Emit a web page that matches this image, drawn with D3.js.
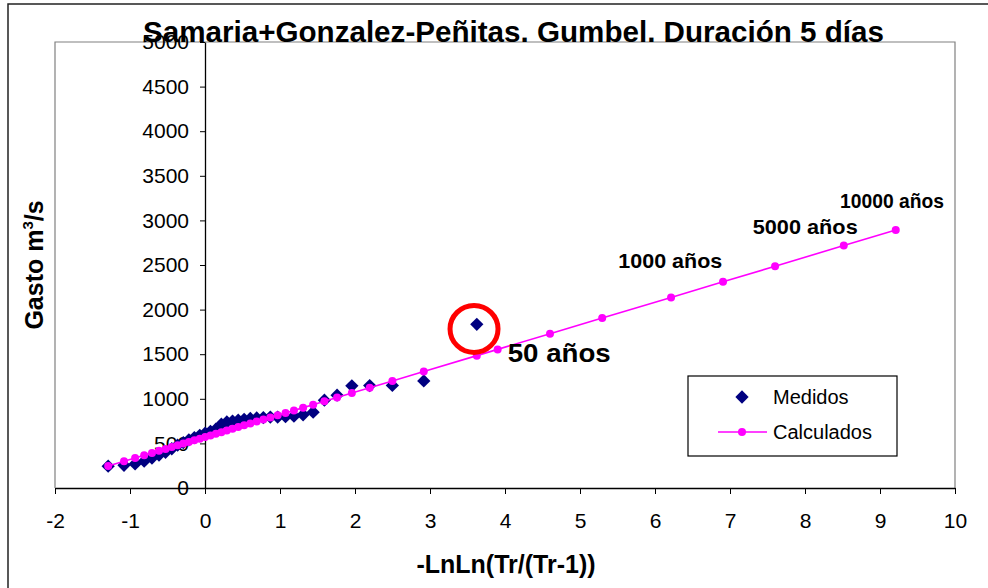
<!DOCTYPE html>
<html>
<head>
<meta charset="utf-8">
<script src="https://cdn.jsdelivr.net/npm/d3@7"></script>
<style>
  html, body { margin: 0; padding: 0; background: #fff; }
  svg { display: block; font-family: "Liberation Sans", Arial, sans-serif; }
</style>
</head>
<body>
<svg id="chart" width="988" height="588"></svg>
<script>
// ---- Data ----
const titleText = "Samaria+Gonzalez-Peñitas. Gumbel. Duración 5 días";
const xTicks = [-2, -1, 0, 1, 2, 3, 4, 5, 6, 7, 8, 9, 10];
const yTicks = [0, 500, 1000, 1500, 2000, 2500, 3000, 3500, 4000, 4500, 5000];

const measuredX = [-1.291, -1.080, -0.932, -0.811, -0.707, -0.613, -0.526, -0.443, -0.365, -0.289,
  -0.215, -0.142, -0.070, 0.002, 0.073, 0.145, 0.218, 0.291, 0.367, 0.443,
  0.522, 0.604, 0.689, 0.778, 0.871, 0.969, 1.074, 1.186, 1.308, 1.442,
  1.592, 1.761, 1.958, 2.196, 2.498, 2.917, 3.624];
const measuredQ = [245, 255, 270, 300, 335, 370, 400, 440, 480, 510,
  540, 565, 590, 615, 635, 660, 715, 740, 750, 760,
  770, 780, 785, 790, 795, 795, 800, 805, 820, 850,
  985, 1040, 1145, 1148, 1150, 1200, 1835];

const calcX = [-1.291, -1.080, -0.932, -0.811, -0.707, -0.613, -0.526, -0.443, -0.365, -0.289,
  -0.215, -0.142, -0.070, 0.002, 0.073, 0.145, 0.218, 0.291, 0.367, 0.443,
  0.522, 0.604, 0.689, 0.778, 0.871, 0.969, 1.074, 1.186, 1.308, 1.442,
  1.592, 1.761, 1.958, 2.196, 2.498, 2.917, 3.624,
  3.902, 4.600, 5.296, 6.214, 6.907, 7.601, 8.517, 9.210];
const calcQ = [246, 299, 336, 367, 393, 417, 438, 459, 479, 498,
  517, 535, 553, 571, 589, 608, 626, 644, 663, 683,
  703, 723, 745, 767, 790, 815, 842, 870, 901, 934,
  972, 1015, 1064, 1124, 1200, 1306, 1484,
  1554, 1730, 1907, 2136, 2312, 2486, 2718, 2892];

const annLabels = ["50 años", "1000 años", "5000 años", "10000 años"];
const annX = [4.036, 5.511, 7.303, 8.467];
const annY = [1413, 2463, 2844, 3136];
const circleX = 3.587, circleY = 1783;

const legendLabels = ["Medidos", "Calculados"];

// ---- Drawing ----
const svg = d3.select("#chart");
const x = d3.scaleLinear().domain([-2, 10]).range([55, 955]);
const y = d3.scaleLinear().domain([0, 5000]).range([488, 42]);

// outer chart frame
svg.append("rect").attr("x", 8).attr("y", 4).attr("width", 1000).attr("height", 600)
  .attr("fill", "none").attr("stroke", "#222").attr("stroke-width", 1.5);

// plot area frame (gray)
svg.append("path")
  .attr("d", `M${x(-2)},${y(0)} V${y(5000)} H${x(10)} V${y(0)}`)
  .attr("fill", "none").attr("stroke", "#808080").attr("stroke-width", 1.2);

// x axis
const gx = svg.append("g").attr("transform", `translate(0,${y(0)})`)
  .call(d3.axisBottom(x).tickValues(xTicks).tickSize(6).tickSizeOuter(0).tickPadding(19)
    .tickFormat(d => String(d)));
gx.select(".domain").attr("stroke", "#000").attr("stroke-width", 1.3);
gx.selectAll(".tick line").attr("stroke", "#000");
gx.selectAll("text").attr("font-size", 21).attr("fill", "#000")
  .attr("font-family", "Liberation Sans, Arial, sans-serif");

// y axis (crosses at x = 0)
const gy = svg.append("g").attr("transform", `translate(${x(0)},0)`)
  .call(d3.axisLeft(y).tickValues(yTicks).tickSize(5).tickSizeOuter(0).tickPadding(11)
    .tickFormat(d => String(d)));
gy.select(".domain").attr("stroke", "#000").attr("stroke-width", 1.3);
gy.selectAll(".tick line").attr("stroke", "#000");
gy.selectAll("text").attr("font-size", 21).attr("fill", "#000")
  .attr("font-family", "Liberation Sans, Arial, sans-serif");

// measured diamonds
const measured = measuredX.map((d, i) => ({ x: d, q: measuredQ[i] }));
const diamond = d3.symbol().type(d3.symbolSquare).size(88);
svg.append("g").selectAll("path").data(measured).join("path")
  .attr("d", diamond)
  .attr("transform", d => `translate(${x(d.x)},${y(d.q)}) rotate(45)`)
  .attr("fill", "#000080");

// calculated line + dots
const calc = calcX.map((d, i) => ({ x: d, q: calcQ[i] }));
svg.append("path").datum(calc)
  .attr("d", d3.line().x(d => x(d.x)).y(d => y(d.q)))
  .attr("fill", "none").attr("stroke", "#FF00FF").attr("stroke-width", 1.6);
svg.append("g").selectAll("circle").data(calc).join("circle")
  .attr("cx", d => x(d.x)).attr("cy", d => y(d.q)).attr("r", 4)
  .attr("fill", "#FF00FF");

// red circle annotation
svg.append("ellipse").attr("cx", x(circleX)).attr("cy", y(circleY))
  .attr("rx", 24).attr("ry", 23.5)
  .attr("fill", "none").attr("stroke", "#FF0000").attr("stroke-width", 5);

// return period annotations
const annSizes = [25, 21, 21, 21];
const annLens = [103, 104, 105, 104];
svg.append("g").selectAll("text").data(annLabels).join("text")
  .attr("x", (d, i) => x(annX[i])).attr("y", (d, i) => y(annY[i]))
  .attr("font-size", (d, i) => annSizes[i]).attr("font-weight", "bold")
  .attr("textLength", (d, i) => annLens[i]).attr("lengthAdjust", "spacingAndGlyphs")
  .attr("fill", "#000").text(d => d);

// title
svg.append("text").attr("x", 513.5).attr("y", 42).attr("text-anchor", "middle")
  .attr("font-size", 29).attr("font-weight", "bold").attr("fill", "#000")
  .attr("textLength", 741).attr("lengthAdjust", "spacingAndGlyphs")
  .text(titleText);

// axis titles
svg.append("text").attr("x", 506).attr("y", 573).attr("text-anchor", "middle")
  .attr("font-size", 25).attr("font-weight", "bold").attr("fill", "#000")
  .text("-LnLn(Tr/(Tr-1))");

const yl = svg.append("text").attr("transform", "translate(43,265) rotate(-90)")
  .attr("text-anchor", "middle").attr("font-size", 25).attr("font-weight", "bold").attr("fill", "#000");
yl.append("tspan").text("Gasto m");
yl.append("tspan").attr("font-size", 15).attr("dy", -10).text("3");
yl.append("tspan").attr("dy", 10).text("/s");

// legend
const lg = svg.append("g");
lg.append("rect").attr("x", 688).attr("y", 376).attr("width", 209).attr("height", 80)
  .attr("fill", "#fff").attr("stroke", "#000").attr("stroke-width", 1.2);
lg.append("path").attr("d", diamond)
  .attr("transform", "translate(742,397) rotate(45)").attr("fill", "#000080");
lg.append("line").attr("x1", 718).attr("x2", 767).attr("y1", 432).attr("y2", 432)
  .attr("stroke", "#FF00FF").attr("stroke-width", 1.6);
lg.append("circle").attr("cx", 742).attr("cy", 432).attr("r", 4).attr("fill", "#FF00FF");
lg.selectAll("text.leg").data(legendLabels).join("text").attr("class", "leg")
  .attr("x", 773).attr("y", (d, i) => 404 + i * 35)
  .attr("font-size", 20).attr("fill", "#000").text(d => d);
</script>
</body>
</html>
